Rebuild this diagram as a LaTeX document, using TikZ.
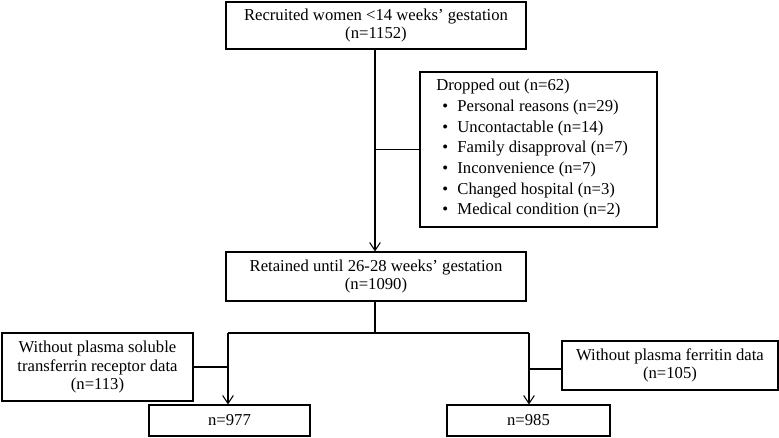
\documentclass[tikz,border=0pt]{standalone}
\usepackage{fontspec}
\setmainfont{Liberation Serif}
\usetikzlibrary{arrows.meta}
\begin{document}
\begin{tikzpicture}[x=0.75pt,y=-0.75pt,
  box/.style={draw,line width=0.8pt,inner sep=0pt,align=center,font=\fontsize{12.5}{14}\selectfont},
  conn/.style={line width=0.8pt},
  arr/.style={line width=0.8pt,-{Straight Barb[length=6pt,width=8pt,line width=0.8pt]}}]
\useasboundingbox (0,0) rectangle (779,437);
\node[box,minimum width=225pt,minimum height=35.25pt] (rec) at (376,25.5) {Recruited women <14 weeks’ gestation\\(n=1152)};
\node[box,minimum width=177.75pt,minimum height=116.25pt] (drop) at (538.5,149.5) {};
\node[anchor=north west,inner sep=0pt,align=left,font=\fontsize{12.5}{15.5}\selectfont] (droptext) at (436,79) {Dropped out (n=62)\\
\hspace*{4.5pt}\textbullet\hspace{7pt}Personal reasons (n=29)\\
\hspace*{4.5pt}\textbullet\hspace{7pt}Uncontactable (n=14)\\
\hspace*{4.5pt}\textbullet\hspace{7pt}Family disapproval (n=7)\\
\hspace*{4.5pt}\textbullet\hspace{7pt}Inconvenience (n=7)\\
\hspace*{4.5pt}\textbullet\hspace{7pt}Changed hospital (n=3)\\
\hspace*{4.5pt}\textbullet\hspace{7pt}Medical condition (n=2)};
\node[box,minimum width=225pt,minimum height=36.75pt] (ret) at (376,276.5) {Retained until 26-28 weeks’ gestation\\(n=1090)};
\node[box,minimum width=143.25pt,minimum height=51pt] (sol) at (97.5,367) {Without plasma soluble\\transferrin receptor data\\(n=113)};
\node[box,minimum width=120.75pt,minimum height=23.25pt] (n977) at (229.5,420.5) {n=977};
\node[box,minimum width=162pt,minimum height=36.75pt] (fer) at (670,365.5) {Without plasma ferritin data\\(n=105)};
\node[box,minimum width=122.25pt,minimum height=23.25pt] (n985) at (528.5,420.5) {n=985};
\coordinate (split) at (375,333);
\coordinate (sl) at (228,333);
\coordinate (sr) at (529,333);
\draw[arr] (rec.south -| split) -- (ret.north -| split);
\draw[conn] (drop.west) -- (drop.west -| split);
\draw[conn] (ret.south -| split) -- (split);
\draw[conn] (sl) -- (sr);
\draw[arr] (sl) -- (n977.north -| sl);
\draw[arr] (sr) -- (n985.north -| sr);
\draw[conn] (sol.east) -- (sol.east -| sl);
\draw[conn] (fer.west |- 0,369) -- (sr |- 0,369);
\end{tikzpicture}
\end{document}
